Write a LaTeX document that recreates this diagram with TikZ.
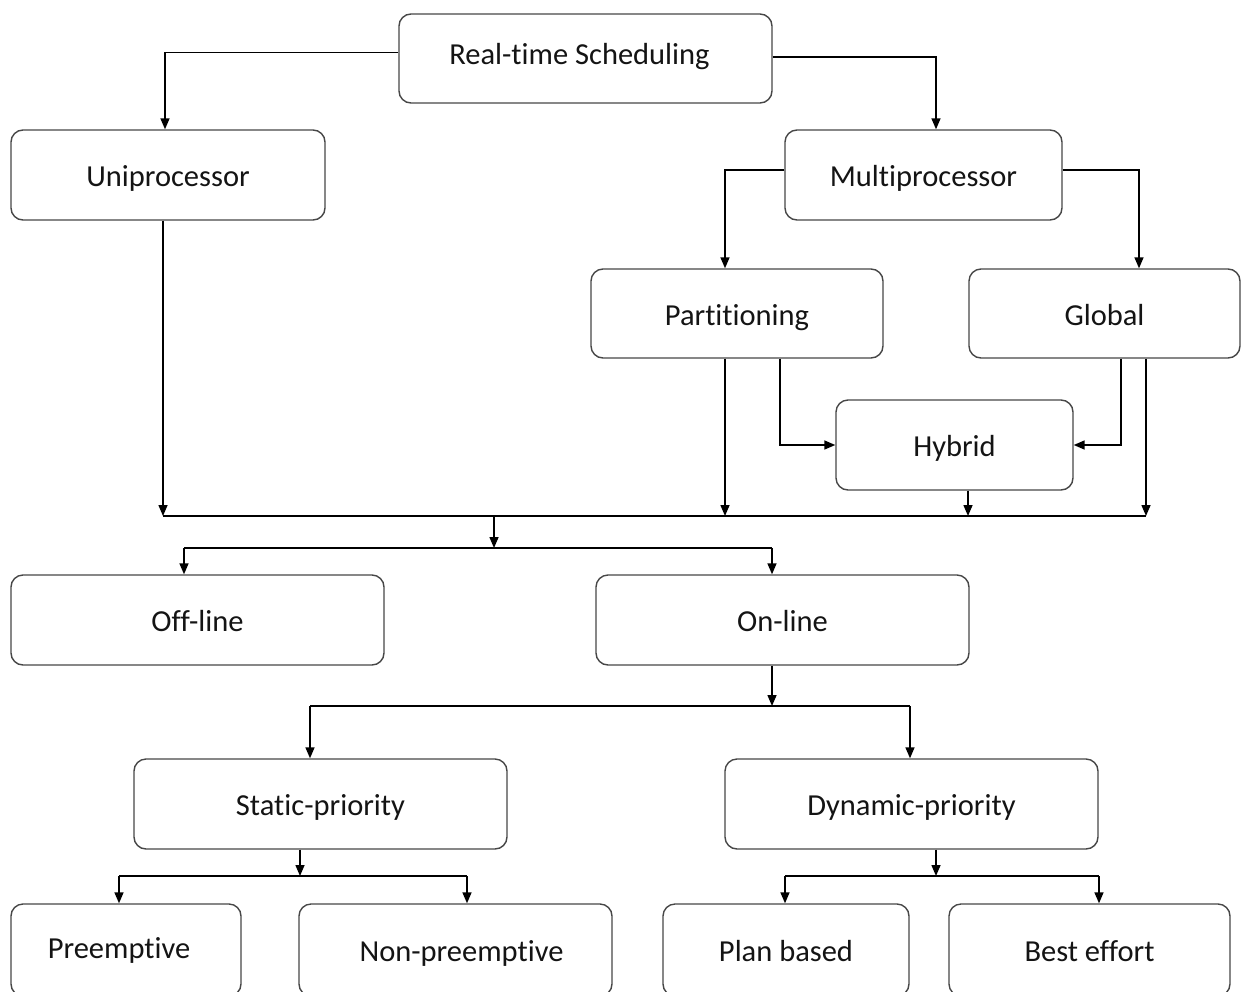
\documentclass[tikz,border=0pt]{standalone}
\usepackage{fontspec}
\setmainfont{Carlito}[Ligatures={NoCommon,NoContextual}]
\usetikzlibrary{arrows.meta}
\begin{document}
\begin{tikzpicture}[x=1pt,y=1pt,
  box/.style={draw=black!72, line width=1.4pt, rounded corners=12pt, fill=white,
    inner sep=0pt, text height=23pt, text depth=0pt,
    font=\fontsize{30.5}{35}\selectfont, text=black!92},
  link/.style={line width=1.5pt, black},
  arr/.style={link, -{Triangle[length=11pt,width=9pt]}}]
\useasboundingbox (0,0) rectangle (1248,-991);
\clip (0,0) rectangle (1248,-991);

% scheduling classes
\node[box, minimum width=373, minimum height=89] (rts) at (585.5,-58.5) {\hspace*{-12pt}\raisebox{6pt}{Real-time Scheduling}};
\node[box, minimum width=314, minimum height=90] (uni) at (168,-175) {Uniprocessor};
\node[box, minimum width=277, minimum height=90] (multi) at (923.5,-175) {Multiprocessor};
\node[box, minimum width=292, minimum height=89] (part) at (737,-313.5) {Partitioning};
\node[box, minimum width=271, minimum height=89] (glob) at (1104.5,-313.5) {Global};
\node[box, minimum width=237, minimum height=90] (hyb) at (954.5,-445) {Hybrid};
\node[box, minimum width=373, minimum height=90] (off) at (197.5,-620) {Off-line};
\node[box, minimum width=373, minimum height=90] (on) at (782.5,-620) {On-line};
\node[box, minimum width=373, minimum height=90] (stat) at (320.5,-804) {Static-priority};
\node[box, minimum width=373, minimum height=90] (dyn) at (911.5,-804) {Dynamic-priority};
\node[box, minimum width=230, minimum height=92] (pre) at (126,-950) {\hspace*{-14pt}\raisebox{3pt}{Preemptive}};
\node[box, minimum width=313, minimum height=92] (npre) at (455.5,-950) {\hspace*{12pt}Non-preemptive};
\node[box, minimum width=246, minimum height=92] (plan) at (786,-950) {Plan based};
\node[box, minimum width=281, minimum height=92] (best) at (1089.5,-950) {Best effort};

% junction points
\coordinate (busL) at (163,-516);
\coordinate (busP) at (725,-516);
\coordinate (busH) at (968,-516);
\coordinate (busR) at (1146,-516);
\coordinate (busM) at (494,-516);
\coordinate (sM) at (494,-548);
\coordinate (sL) at (184,-548);
\coordinate (sR) at (772,-548);
\coordinate (oM) at (772,-706);
\coordinate (oL) at (310,-706);
\coordinate (oR) at (910,-706);
\coordinate (tM) at (300,-876);
\coordinate (tL) at (119,-876);
\coordinate (tR) at (467,-876);
\coordinate (dM) at (936,-876);
\coordinate (dL) at (785,-876);
\coordinate (dR) at (1099,-876);

% top level split
\draw[arr] ([yshift=6]rts.west) -| ([xshift=-3]uni.north);
\draw[arr] ([yshift=1.5]rts.east) -| ([xshift=12.5]multi.north);
\draw[arr] ([yshift=5]multi.west) -| ([xshift=-12]part.north);
\draw[arr] ([yshift=5]multi.east) -| ([xshift=34.5]glob.north);

% hybrid inputs
\draw[arr] ([xshift=43]part.south) |- (hyb.west);
\draw[arr] ([xshift=16.5]glob.south) |- (hyb.east);

% merge bus
\draw[link] (busL) -- (busR);
\draw[arr] (uni.south -| busL) -- (busL);
\draw[arr] (part.south -| busP) -- (busP);
\draw[arr] (hyb.south -| busH) -- (busH);
\draw[arr] (glob.south -| busR) -- (busR);

% off-line / on-line
\draw[arr] (busM) -- (sM);
\draw[link] (sL) -- (sR);
\draw[arr] (sL) -- (sL |- off.north);
\draw[arr] (sR) -- (sR |- on.north);

% priority classes
\draw[arr] (on.south -| oM) -- (oM);
\draw[link] (oL) -- (oR);
\draw[arr] (oL) -- (oL |- stat.north);
\draw[arr] (oR) -- (oR |- dyn.north);

% static-priority variants
\draw[arr] (stat.south -| tM) -- (tM);
\draw[link] (tL) -- (tR);
\draw[arr] (tL) -- (tL |- pre.north);
\draw[arr] (tR) -- (tR |- npre.north);

% dynamic-priority variants
\draw[arr] (dyn.south -| dM) -- (dM);
\draw[link] (dL) -- (dR);
\draw[arr] (dL) -- (dL |- plan.north);
\draw[arr] (dR) -- (dR |- best.north);
\end{tikzpicture}
\end{document}
